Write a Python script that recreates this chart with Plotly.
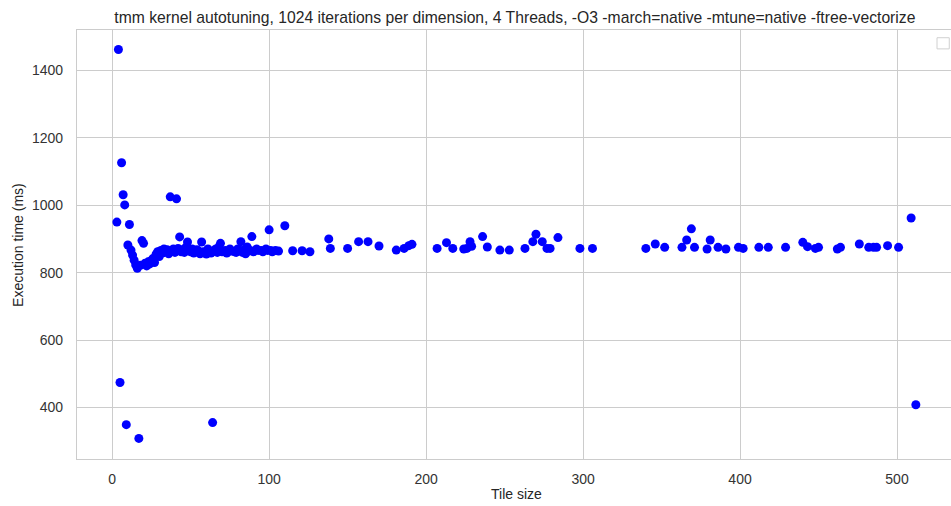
import plotly.graph_objects as go

# Tile sizes (x) and execution times in ms (y)
tile_size = [
    3, 4, 5, 6, 7, 8, 9, 10, 11, 12, 13, 14, 15, 16, 17, 18, 19, 20, 21, 22,
    23, 24, 25, 26, 27, 28, 29, 30, 31, 32, 33, 34, 35, 36, 37, 38, 39, 40, 41, 42,
    43, 44, 45, 46, 47, 48, 49, 50, 51, 52, 54, 55, 56, 57, 58, 60, 61, 62, 63, 64,
    65, 66, 67, 68, 69, 70, 72, 73, 75, 76, 78, 79, 80, 81, 82, 83, 84, 85, 86, 87,
    88, 89, 90, 92, 93, 95, 96, 98, 99, 100, 101, 102, 104, 106, 110, 115, 121, 126, 138, 139,
    150, 157, 163, 170, 181, 186, 189, 191, 207, 213, 217, 224, 226, 228, 229, 236, 239, 247, 253, 263,
    268, 270, 274, 277, 279, 284, 298, 306, 340, 346, 352, 363, 366, 369, 371, 379, 381, 386, 391, 399,
    402, 412, 418, 429, 440, 443, 448, 450, 462, 464, 476, 482, 485, 487, 494, 501, 509, 512,
]
exec_time_ms = [
    950, 1462, 474, 1126, 1031, 1001, 349, 882, 943, 867, 852, 837, 823, 813, 308, 822, 895, 887, 828, 820,
    832, 826, 836, 842, 830, 855, 862, 848, 866, 858, 870, 862, 868, 856, 1025, 866, 870, 860, 1019, 872,
    906, 862, 868, 860, 875, 891, 866, 862, 870, 858, 868, 864, 856, 891, 862, 855, 870, 864, 858, 355,
    866, 870, 860, 876, 887, 862, 866, 858, 870, 864, 862, 860, 870, 866, 892, 860, 868, 856, 876, 864,
    866, 907, 862, 870, 866, 866, 862, 870, 866, 927, 866, 862, 866, 864, 939, 865, 865, 862, 900, 872,
    872, 892, 892, 879, 867, 872, 880, 884, 872, 889, 872, 870, 872, 892, 878, 907, 876, 867, 867, 872,
    892, 914, 892, 872, 872, 904, 872, 872, 872, 885, 875, 875, 897, 930, 875, 870, 897, 875, 870, 875,
    872, 875, 875, 875, 890, 877, 872, 875, 870, 875, 885, 875, 875, 875, 880, 875, 962, 408,
]

x_ticks = [0, 100, 200, 300, 400, 500]
y_ticks = [400, 600, 800, 1000, 1200, 1400]

title_text = ("tmm kernel autotuning, 1024 iterations per dimension, 4 Threads, "
              "-O3 -march=native -mtune=native -ftree-vectorize")
x_label = "Tile size"
y_label = "Execution time (ms)"

FONT = "Arial, 'Liberation Sans', sans-serif"
GRID = "#cccccc"
TEXT = "#262626"

fig = go.Figure()
fig.add_trace(go.Scatter(
    x=tile_size, y=exec_time_ms, mode="markers",
    marker=dict(color="#0000ff", size=9, line=dict(width=0)),
    showlegend=False,
))

# empty legend frame (upper right)
fig.add_shape(type="rect", xref="paper", yref="paper",
              x0=0.984, x1=0.998, y0=0.956, y1=0.982,
              line=dict(color="#d0d0d0", width=1), fillcolor="white", layer="above")

# axis titles
fig.add_annotation(text=x_label, xref="paper", yref="paper", x=0.503, y=-0.0816,
                   xanchor="center", yanchor="middle", showarrow=False,
                   font=dict(family=FONT, size=14, color=TEXT))
fig.add_annotation(text=y_label, xref="paper", yref="paper", x=-0.0675, y=0.499,
                   xanchor="center", yanchor="middle", showarrow=False, textangle=-90,
                   font=dict(family=FONT, size=14, color=TEXT))

fig.update_layout(
    width=951, height=506,
    margin=dict(l=77, r=0, t=30, b=47),
    paper_bgcolor="white", plot_bgcolor="white",
    font=dict(family=FONT, color=TEXT, size=14),
    title=dict(text=title_text, xref="paper", x=0.501, xanchor="center",
               yref="container", y=0.966, yanchor="middle",
               font=dict(family=FONT, size=15.7, color=TEXT)),
    xaxis=dict(
        range=[-22.4, 534.4], tickvals=x_ticks, ticks="", automargin=False,
        showgrid=True, gridcolor=GRID, gridwidth=1.3, zeroline=False,
        showline=True, linecolor=GRID, linewidth=1.3, mirror=True,
        tickfont=dict(size=14, color="#333333"), ticklabelstandoff=7,
    ),
    yaxis=dict(
        range=[247, 1520], tickvals=y_ticks, ticks="", automargin=False,
        showgrid=True, gridcolor=GRID, gridwidth=1.3, zeroline=False,
        showline=True, linecolor=GRID, linewidth=1.3, mirror=True,
        tickfont=dict(size=14, color="#333333"), ticklabelstandoff=10,
    ),
)

fig.write_html("out.html", config={"displayModeBar": False},
               post_script="document.body.style.margin='0';")
